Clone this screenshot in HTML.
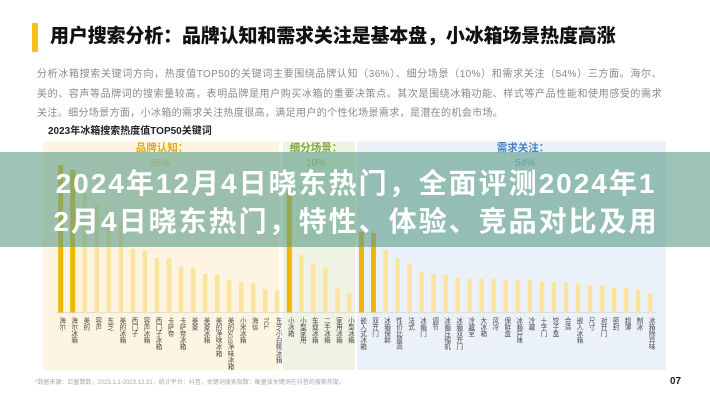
<!DOCTYPE html>
<html><head><meta charset="utf-8">
<style>
*{margin:0;padding:0;box-sizing:border-box}
html,body{width:710px;height:400px;background:#fff;overflow:hidden}
body{position:relative;font-family:"Liberation Sans","Noto Sans CJK SC",sans-serif}
.a{position:absolute;white-space:nowrap}
.title{left:50px;top:25px;font-size:19px;line-height:24px;font-weight:900;color:#111;letter-spacing:-0.15px}
.para{left:37px;width:625px;font-size:10px;line-height:19.5px;color:#8a8a8a;letter-spacing:0.36px}
.j{text-align:justify;text-align-last:justify}
.sub{left:48px;top:124px;font-size:10px;line-height:15px;font-weight:bold;color:#222}
.hd{font-size:10.5px;line-height:14px;font-weight:bold;text-align:center}
.pc{font-size:10px;line-height:14px;text-align:center}
.lb{position:absolute;top:317px;width:8px;writing-mode:vertical-lr;text-orientation:mixed;font-size:6.6px;line-height:8px;color:#4a4a4a;white-space:nowrap}
.ov{position:absolute;left:0;top:152px;width:710px;height:95px;background:rgba(96,158,136,0.62)}
.ot{position:absolute;left:0;width:712px;text-align:center;font-size:28px;line-height:38px;font-weight:bold;color:#fff;letter-spacing:2px;white-space:nowrap}
</style></head><body>

<div class="a" style="left:32px;top:23px;width:6px;height:29px;background:#f5c21b"></div>
<div class="a title">用户搜索分析：品牌认知和需求关注是基本盘，小冰箱场景热度高涨</div>

<div class="a para j" style="top:65px">分析冰箱搜索关键词方向，热度值TOP50的关键词主要围绕品牌认知（36%）、细分场景（10%）和需求关注（54%）三方面。海尔、</div>
<div class="a para j" style="top:84.5px">美的、容声等品牌词的搜索量较高，表明品牌是用户购买冰箱的重要决策点。其次是围绕冰箱功能、样式等产品性能和使用感受的需求</div>
<div class="a para" style="top:104px;width:auto">关注。细分场景方面，小冰箱的需求关注热度很高，满足用户的个性化场景需求，是潜在的机会市场。</div>

<div class="a sub">2023年冰箱搜索热度值TOP50关键词</div>

<svg class="a" style="left:0;top:0" width="710" height="400" viewBox="0 0 710 400">
<rect x="43" y="141.5" width="236" height="228.5" fill="#fdf5e2"/>
<rect x="283" y="141.5" width="72" height="228.5" fill="#eef3e3"/>
<rect x="357" y="141.5" width="309" height="228.5" fill="#eaf1f9"/>
<line x1="55" y1="312.5" x2="657" y2="312.5" stroke="#d6d6d6" stroke-width="0.7"/>
<g fill="#fbe3a0">
<rect x="82.55" y="193" width="4.5" height="119.5"/>
<rect x="94.55" y="204" width="4.5" height="108.5"/>
<rect x="106.55" y="212" width="4.5" height="100.5"/>
<rect x="118.65" y="222" width="4.5" height="90.5"/>
<rect x="130.65" y="249" width="4.5" height="63.5"/>
<rect x="142.65" y="250.7" width="4.5" height="61.8"/>
<rect x="154.65" y="257.7" width="4.5" height="54.8"/>
<rect x="166.75" y="258.3" width="4.5" height="54.2"/>
<rect x="178.75" y="266.7" width="4.5" height="45.8"/>
<rect x="190.75" y="267.7" width="4.5" height="44.8"/>
<rect x="202.85" y="274" width="4.5" height="38.5"/>
<rect x="214.85" y="274.7" width="4.5" height="37.8"/>
<rect x="226.85" y="280" width="4.5" height="32.5"/>
<rect x="238.95" y="282.3" width="4.5" height="30.2"/>
<rect x="250.95" y="283.3" width="4.5" height="29.2"/>
<rect x="262.95" y="289.3" width="4.5" height="23.2"/>
<rect x="274.95" y="290.7" width="4.5" height="21.8"/>
<rect x="299.05" y="255" width="4.5" height="57.5"/>
<rect x="311.05" y="263.3" width="4.5" height="49.2"/>
<rect x="323.15" y="267.3" width="4.5" height="45.2"/>
<rect x="335.15" y="288.3" width="4.5" height="24.2"/>
<rect x="347.15" y="293.3" width="4.5" height="19.2"/>
<rect x="383.25" y="250" width="4.5" height="62.5"/>
<rect x="395.25" y="258.3" width="4.5" height="54.2"/>
<rect x="407.35" y="264" width="4.5" height="48.5"/>
<rect x="419.35" y="271.7" width="4.5" height="40.8"/>
<rect x="431.35" y="274" width="4.5" height="38.5"/>
<rect x="443.45" y="275" width="4.5" height="37.5"/>
<rect x="455.45" y="277.7" width="4.5" height="34.8"/>
<rect x="467.45" y="279" width="4.5" height="33.5"/>
<rect x="479.55" y="279" width="4.5" height="33.5"/>
<rect x="491.55" y="279" width="4.5" height="33.5"/>
<rect x="503.55" y="280" width="4.5" height="32.5"/>
<rect x="515.55" y="280" width="4.5" height="32.5"/>
<rect x="527.65" y="280" width="4.5" height="32.5"/>
<rect x="539.65" y="281" width="4.5" height="31.5"/>
<rect x="551.65" y="282.3" width="4.5" height="30.2"/>
<rect x="563.75" y="282.7" width="4.5" height="29.8"/>
<rect x="575.75" y="283.3" width="4.5" height="29.2"/>
<rect x="587.75" y="285" width="4.5" height="27.5"/>
<rect x="599.85" y="285" width="4.5" height="27.5"/>
<rect x="611.85" y="287.7" width="4.5" height="24.8"/>
<rect x="623.85" y="287.7" width="4.5" height="24.8"/>
<rect x="635.85" y="289.3" width="4.5" height="23.2"/>
<rect x="647.95" y="293.3" width="4.5" height="19.2"/>
</g>
<g fill="#f2b705">
<rect x="58.2" y="165" width="5" height="147.5"/>
<rect x="70.2" y="170" width="5" height="142.5"/>
<rect x="286.8" y="190" width="5" height="122.5"/>
<rect x="359" y="232" width="5" height="80.5"/>
<rect x="371" y="233" width="5" height="79.5"/>
</g>
</svg>

<div class="a hd" style="left:112px;width:100px;top:141px;color:#e2aa08">品牌认知：</div>
<div class="a pc" style="left:120px;width:80px;top:157px;color:#e8c060">36%</div>
<div class="a hd" style="left:276px;width:80px;top:141px;color:#82a53e">细分场景：</div>
<div class="a pc" style="left:276px;width:80px;top:157px;color:#98b868">10%</div>
<div class="a hd" style="left:473px;width:100px;top:141px;color:#4a80c2">需求关注：</div>
<div class="a pc" style="left:485px;width:80px;top:157px;color:#6f9bd0">54%</div>

<div class="lb" style="left:56.7px">海尔</div>
<div class="lb" style="left:68.7px">海尔冰箱</div>
<div class="lb" style="left:80.8px">美的</div>
<div class="lb" style="left:92.8px">容声</div>
<div class="lb" style="left:104.8px">东芝</div>
<div class="lb" style="left:116.9px">美的冰箱</div>
<div class="lb" style="left:128.9px">西门子</div>
<div class="lb" style="left:140.9px">容声冰箱</div>
<div class="lb" style="left:152.9px">西门子冰箱</div>
<div class="lb" style="left:165px">卡萨帝</div>
<div class="lb" style="left:177px">卡萨帝冰箱</div>
<div class="lb" style="left:189px">美菱</div>
<div class="lb" style="left:201.1px">美菱冰箱</div>
<div class="lb" style="left:213.1px">美的净味冰箱</div>
<div class="lb" style="left:225.1px">美的5GS净味冰箱</div>
<div class="lb" style="left:237.2px">小米冰箱</div>
<div class="lb" style="left:249.2px">海信</div>
<div class="lb" style="left:261.2px">TCL</div>
<div class="lb" style="left:273.2px">东芝小白桃冰箱</div>
<div class="lb" style="left:285.3px">小冰箱</div>
<div class="lb" style="left:297.3px">小型家用</div>
<div class="lb" style="left:309.3px">车载冰箱</div>
<div class="lb" style="left:321.4px">二手冰箱</div>
<div class="lb" style="left:333.4px">家用冰箱</div>
<div class="lb" style="left:345.4px">小型冰箱</div>
<div class="lb" style="left:357.5px">嵌入式冰箱</div>
<div class="lb" style="left:369.5px">双开门</div>
<div class="lb" style="left:381.5px">冰箱保鲜</div>
<div class="lb" style="left:393.5px">性价比最高</div>
<div class="lb" style="left:405.6px">法式</div>
<div class="lb" style="left:417.6px">冰箱门</div>
<div class="lb" style="left:429.6px">调节</div>
<div class="lb" style="left:441.7px">冰箱压缩机</div>
<div class="lb" style="left:453.7px">冰箱双开门</div>
<div class="lb" style="left:465.7px">冷藏室</div>
<div class="lb" style="left:477.8px">大冰箱</div>
<div class="lb" style="left:489.8px">风冷</div>
<div class="lb" style="left:501.8px">保鲜盒</div>
<div class="lb" style="left:513.8px">冰箱异味</div>
<div class="lb" style="left:525.9px">冷藏</div>
<div class="lb" style="left:537.9px">十字门</div>
<div class="lb" style="left:549.9px">饺子盒</div>
<div class="lb" style="left:562px">合适</div>
<div class="lb" style="left:574px">嵌入冰箱</div>
<div class="lb" style="left:586px">尺寸</div>
<div class="lb" style="left:598.1px">对开门</div>
<div class="lb" style="left:610.1px">密封</div>
<div class="lb" style="left:622.1px">超薄</div>
<div class="lb" style="left:634.1px">制冰</div>
<div class="lb" style="left:646.2px">冰箱除异味</div>

<div class="a" style="left:35px;top:379px;font-size:6px;line-height:8px;color:#a8a8a8">*数据来源：巨量算数，2023.1.1-2023.12.31，统计平台：抖音，关键词搜索指数：衡量该关键词在抖音的搜索热度。</div>
<div class="a" style="left:670px;top:375px;font-size:10px;line-height:13px;font-weight:bold;color:#222">07</div>

<div class="ov"></div>
<div class="ot" style="top:164.5px">2024年12月4日晓东热门，全面评测2024年1</div>
<div class="ot" style="top:203px">2月4日晓东热门，特性、体验、竞品对比及用</div>

</body></html>
